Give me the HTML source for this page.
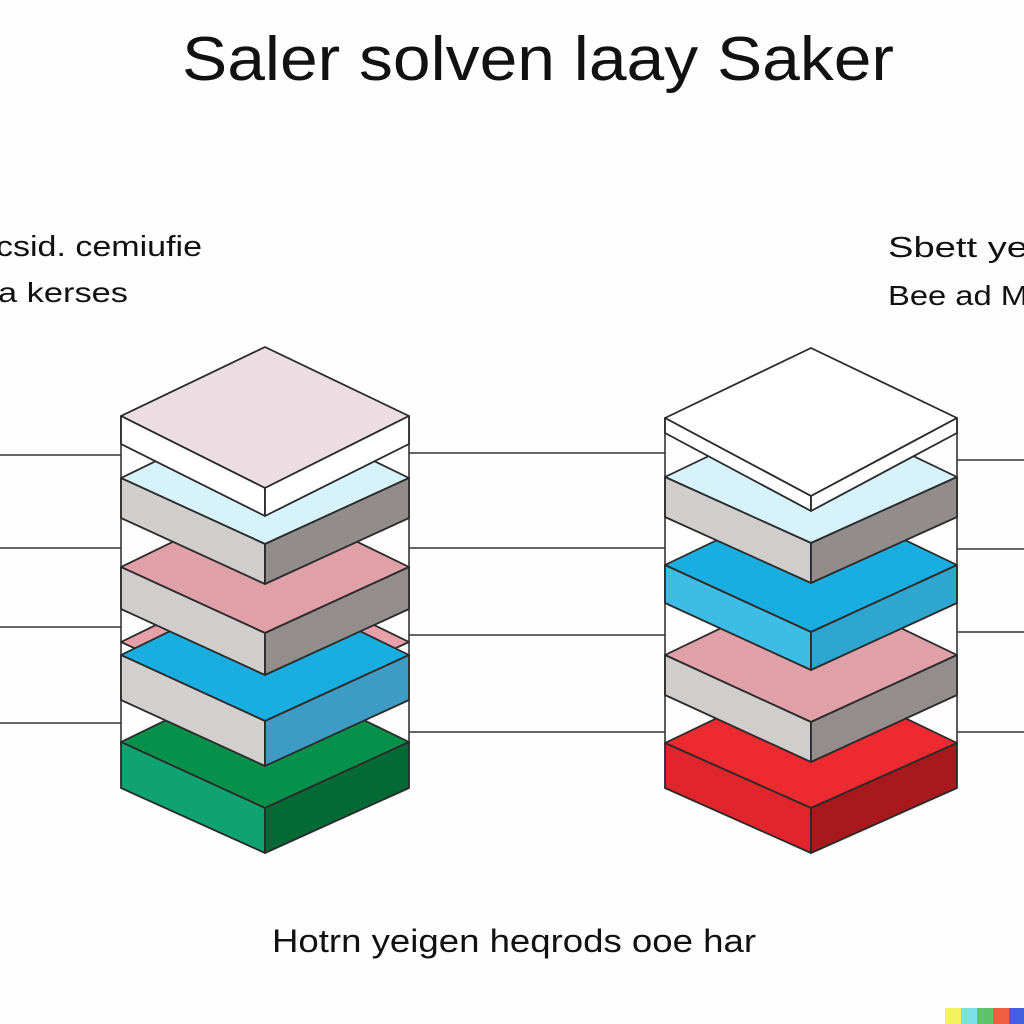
<!DOCTYPE html>
<html><head><meta charset="utf-8"><style>
html,body{margin:0;padding:0;background:#fff;}
svg{display:block}
text{font-family:"Liberation Sans",sans-serif;fill:#111}
</style></head><body>
<svg width="1024" height="1024" viewBox="0 0 1024 1024" xmlns="http://www.w3.org/2000/svg">
<rect width="1024" height="1024" fill="#fefefe"/>
<text x="538" y="80" font-size="62" text-anchor="middle" textLength="712" lengthAdjust="spacingAndGlyphs">Saler solven laay Saker</text>
<text x="-4" y="256" font-size="29" textLength="206" lengthAdjust="spacingAndGlyphs">csid. cemiufie</text>
<text x="-2" y="302" font-size="28" textLength="130" lengthAdjust="spacingAndGlyphs">a kerses</text>
<text x="888" y="257" font-size="29" textLength="140" lengthAdjust="spacingAndGlyphs">Sbett ye</text>
<text x="888" y="305" font-size="28" textLength="140" lengthAdjust="spacingAndGlyphs">Bee ad M</text>
<text x="514" y="952" font-size="32" text-anchor="middle" textLength="484" lengthAdjust="spacingAndGlyphs">Hotrn yeigen heqrods ooe har</text>

<g stroke="#333" stroke-width="1.6" fill="none">
<line x1="0" y1="455" x2="121" y2="455"/><line x1="0" y1="548" x2="121" y2="548"/>
<line x1="0" y1="627" x2="121" y2="627"/><line x1="0" y1="723" x2="121" y2="723"/>
<line x1="409" y1="453" x2="665" y2="453"/><line x1="409" y1="548" x2="665" y2="548"/>
<line x1="409" y1="635" x2="665" y2="635"/><line x1="409" y1="732" x2="665" y2="732"/>
<line x1="957" y1="460" x2="1024" y2="460"/><line x1="957" y1="549" x2="1024" y2="549"/>
<line x1="957" y1="632" x2="1024" y2="632"/><line x1="957" y1="732" x2="1024" y2="732"/>
<line x1="121" y1="416" x2="121" y2="745"/><line x1="409" y1="416" x2="409" y2="745"/>
<line x1="665" y1="418" x2="665" y2="745"/><line x1="957" y1="418" x2="957" y2="745"/>
</g>

<g stroke="#2a2a2a" stroke-width="1.8" stroke-linejoin="round">
<!-- LEFT STACK -->
<polygon points="121,742 265,672 409,742 265,808" fill="#07904a"/>
<polygon points="121,742 265,808 265,853 121,788" fill="#0ea370"/>
<polygon points="409,742 265,808 265,853 409,788" fill="#036a35"/>

<polygon points="121,642 265,572 409,642 265,708" fill="#e8a0a8"/>
<polygon points="121,655 265,585 409,655 265,721" fill="#1aaee0"/>
<polygon points="121,655 265,721 265,766 121,700" fill="#d2cfcf"/>
<polygon points="409,655 265,721 265,766 409,700" fill="#3e9cc4"/>

<polygon points="121,567 265,497 409,567 265,633" fill="#e0a0a8"/>
<polygon points="121,567 265,633 265,675 121,609" fill="#d0cdcd"/>
<polygon points="409,567 265,633 265,675 409,609" fill="#938d8b"/>

<polygon points="121,478 265,408 409,478 265,544" fill="#d6f3fb"/>
<polygon points="121,478 265,544 265,584 121,518" fill="#d0cdcd"/>
<polygon points="409,478 265,544 265,584 409,518" fill="#928c8a"/>

<polygon points="121,416 265,347 409,416 265,488" fill="#ecdde2"/>
<polygon points="121,416 265,488 265,516 121,444" fill="#fff"/>
<polygon points="409,416 265,488 265,516 409,444" fill="#fff"/>

<!-- RIGHT STACK -->
<polygon points="665,743 811,673 957,743 811,808" fill="#ec2a30"/>
<polygon points="665,743 811,808 811,853 665,788" fill="#e0262c"/>
<polygon points="957,743 811,808 811,853 957,788" fill="#a8181c"/>

<polygon points="665,655 811,585 957,655 811,722" fill="#e0a0a8"/>
<polygon points="665,655 811,722 811,762 665,695" fill="#d0cdcd"/>
<polygon points="957,655 811,722 811,762 957,695" fill="#938d8b"/>

<polygon points="665,565 811,495 957,565 811,632" fill="#1aaee0"/>
<polygon points="665,565 811,632 811,670 665,603" fill="#3dbde6"/>
<polygon points="957,565 811,632 811,670 957,603" fill="#2ea6d0"/>

<polygon points="665,477 811,407 957,477 811,543" fill="#d6f3fb"/>
<polygon points="665,477 811,543 811,583 665,517" fill="#d0cdcd"/>
<polygon points="957,477 811,543 811,583 957,517" fill="#928c8a"/>

<polygon points="665,418 811,348 957,418 811,496" fill="#fff"/>
<polygon points="665,418 811,496 811,511 665,433" fill="#fff"/>
<polygon points="957,418 811,496 811,511 957,433" fill="#fff"/>
</g>

<rect x="945" y="1008" width="16" height="16" fill="#f5f060"/>
<rect x="961" y="1008" width="16" height="16" fill="#7be0e8"/>
<rect x="977" y="1008" width="16" height="16" fill="#5ec46a"/>
<rect x="993" y="1008" width="16" height="16" fill="#f06040"/>
<rect x="1009" y="1008" width="15" height="16" fill="#4060e0"/>
</svg>
</body></html>
